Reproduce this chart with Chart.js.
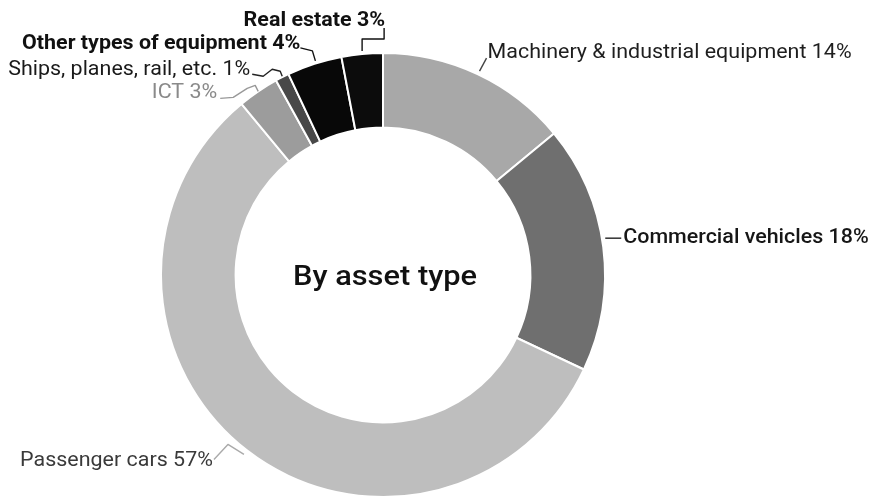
<!DOCTYPE html>
<html>
<head>
<meta charset="utf-8">
<script src="https://cdn.jsdelivr.net/npm/chart.js@4/dist/chart.umd.min.js"></script>
<style>
  html, body { margin: 0; padding: 0; background: #ffffff; }
  #wrap { width: 869px; height: 499px; }
</style>
</head>
<body>
<div id="wrap"><canvas id="c" width="869" height="499"></canvas></div>
<script>
// Investment by asset type (share of total, %)
const categories = [
  'Machinery & industrial equipment',
  'Commercial vehicles',
  'Passenger cars',
  'ICT',
  'Ships, planes, rail, etc.',
  'Other types of equipment',
  'Real estate'
];
const shares = [14, 18, 57, 3, 1, 4, 3];
const centerTitle = 'By asset type';

const sliceColors = ['#a8a8a8', '#6f6f6f', '#bebebe', '#9c9c9c', '#484848', '#080808', '#0c0c0c'];

// Label styling and leader-line shape, offsets relative to the slice's outer mid-point
const labelStyle = [
  { align: 'left',  dx: 10,  dy: -16, weight: '400', color: '#1e1e1e', line: '#444', path: [[2, -3], [9, -16]] },
  { align: 'left',  dx: 20,  dy: -4,  weight: '500', color: '#161616', line: '#222', path: [[2, -9], [18, -9]] },
  { align: 'right', dx: -34, dy: 16,  weight: '400', color: '#3a3a3a', line: '#aaa', path: [[-3, 4], [-19, -6], [-33, 9]] },
  { align: 'right', dx: -41, dy: 7,   weight: '400', color: '#8a8a8a', line: '#999', path: [[0, 0], [-3, -6], [-11, -3], [-25, 6], [-38, 7]] },
  { align: 'right', dx: -32, dy: -2,  weight: '400', color: '#1a1a1a', line: '#222', path: [[0, -1], [-2, -6], [-10, -8], [-19, -1], [-30, -3]] },
  { align: 'right', dx: -14, dy: -15, weight: '700', color: '#111', line: '#111', path: [[1, -3], [-2, -13], [-14, -16]] },
  { align: 'right', dx: 23,  dy: -28, weight: '700', color: '#111', line: '#111', path: [[0, -3], [0, -15], [22, -15], [22, -26]] }
];

// Text in this chart is set slightly wide
function wideText(ctx, text, x, y, stretch) {
  ctx.save();
  ctx.translate(x, y);
  ctx.scale(stretch, 1);
  ctx.fillText(text, 0, 0);
  ctx.restore();
}

const leaderLabels = {
  id: 'leaderLabels',
  afterDatasetsDraw(chart) {
    const ctx = chart.ctx;
    const arcs = chart.getDatasetMeta(0).data;
    arcs.forEach((arc, i) => {
      const p = arc.getProps(['x', 'y', 'startAngle', 'endAngle', 'outerRadius'], true);
      const mid = (p.startAngle + p.endAngle) / 2;
      const ax = p.x + Math.cos(mid) * p.outerRadius;
      const ay = p.y + Math.sin(mid) * p.outerRadius;
      const s = labelStyle[i];
      ctx.save();
      ctx.strokeStyle = s.line;
      ctx.lineWidth = 1.4;
      ctx.lineJoin = 'round';
      ctx.beginPath();
      s.path.forEach((pt, k) => {
        if (k === 0) ctx.moveTo(ax + pt[0], ay + pt[1]);
        else ctx.lineTo(ax + pt[0], ay + pt[1]);
      });
      ctx.stroke();
      ctx.fillStyle = s.color;
      ctx.font = s.weight + ' 19.5px Roboto';
      ctx.textAlign = s.align;
      ctx.textBaseline = 'alphabetic';
      wideText(ctx, categories[i] + ' ' + shares[i] + '%', ax + s.dx, ay + s.dy, 1.1);
      ctx.restore();
    });
  }
};

const centerText = {
  id: 'centerText',
  afterDatasetsDraw(chart) {
    const arc = chart.getDatasetMeta(0).data[0];
    const ctx = chart.ctx;
    ctx.save();
    ctx.fillStyle = '#111';
    ctx.font = '500 28px Roboto';
    ctx.textAlign = 'center';
    ctx.textBaseline = 'alphabetic';
    wideText(ctx, centerTitle, arc.x + 2, arc.y + 10, 1.1);
    ctx.restore();
  }
};

new Chart(document.getElementById('c'), {
  type: 'doughnut',
  data: {
    labels: categories,
    datasets: [{
      data: shares,
      backgroundColor: sliceColors,
      borderColor: '#ffffff',
      borderWidth: 2
    }]
  },
  options: {
    responsive: false,
    animation: false,
    cutout: '66.4%',
    layout: { padding: { left: 160, right: 263, top: 52, bottom: 1 } },
    plugins: {
      legend: { display: false },
      tooltip: { enabled: false }
    }
  },
  plugins: [leaderLabels, centerText]
});
</script>
</body>
</html>
